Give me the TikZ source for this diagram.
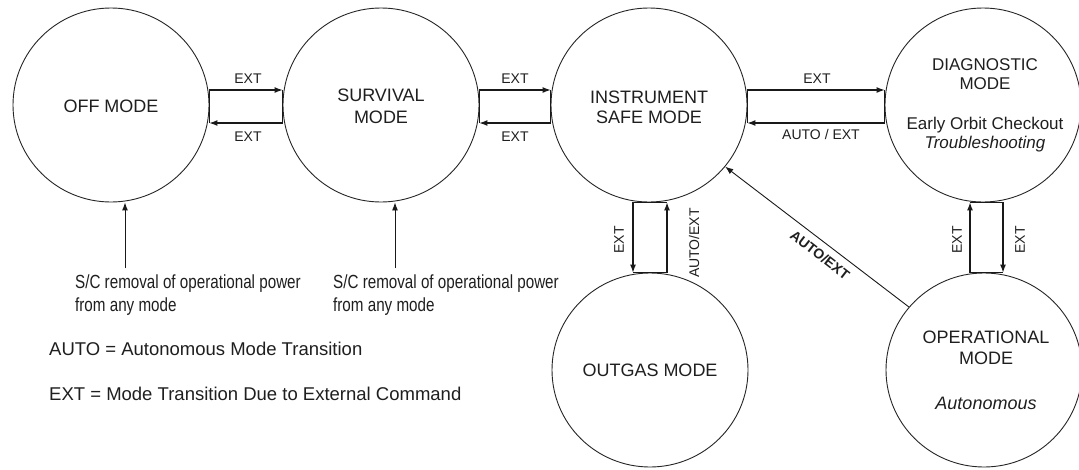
\documentclass[tikz,border=0pt]{standalone}
\usepackage{fontspec}
\setmainfont{Liberation Sans}
\usetikzlibrary{shapes.geometric,arrows.meta,calc}
\begin{document}
\begin{tikzpicture}[x=1pt,y=-1pt,
  mode/.style={ellipse,draw=black!85,line width=0.9pt,minimum width=196pt,minimum height=194pt,inner sep=0pt},
  lbl/.style={font=\fontsize{18}{21}\selectfont,align=center,text=black!88,inner sep=0pt},
  arr/.style={line width=1.1pt,draw=black!90,-{Latex[length=8pt,width=6pt]}},
  ln/.style={line width=1.1pt,draw=black!90},
  tag/.style={font=\fontsize{14}{16}\selectfont,inner sep=0pt,text=black!88},
  note/.style={font=\fontsize{18.5}{22}\selectfont,anchor=west,inner sep=0pt,text=black!88}]
\useasboundingbox (0,0) rectangle (1079,469);
\fill[white] (0,0) rectangle (1079,469);

% mode circles
\node[mode] (off)  at (111,105) {};
\node[mode] (surv) at (381,105) {};
\node[mode] (inst) at (649,105) {};
\node[mode] (diag) at (983,105) {};
\node[mode] (outg) at (650,370) {};
\node[mode] (oper) at (984,370) {};

% mode texts
\node[lbl] (offt) at (111,106) {OFF MODE};
\node[lbl,font=\fontsize{18}{22}\selectfont] (survt) at (381,106) {SURVIVAL\\MODE};
\node[lbl,font=\fontsize{18}{20}\selectfont] (instt) at (649,107) {INSTRUMENT\\SAFE MODE};
\node[lbl,font=\fontsize{17}{19}\selectfont] (diagt) at (985,105) {DIAGNOSTIC\\MODE\\[21pt]Early Orbit Checkout\\\textit{Troubleshooting}};
\node[lbl] (outgt) at (650,370) {OUTGAS MODE};
\node[lbl,font=\fontsize{18}{21}\selectfont] (opert) at (986,370) {OPERATIONAL\\MODE\\[24pt]\textit{Autonomous}};

% helper coordinates
\coordinate (ya) at (0,90);
\coordinate (yb) at (0,123);
\coordinate (xa) at (633,0);
\coordinate (xb) at (667,0);
\coordinate (xc) at (970,0);
\coordinate (xd) at (1003,0);

% flats on the circle sides
\draw[ln] (off.east |- ya) -- (off.east |- yb);
\draw[ln] (surv.west |- ya) -- (surv.west |- yb);
\draw[ln] (surv.east |- ya) -- (surv.east |- yb);
\draw[ln] (inst.west |- ya) -- (inst.west |- yb);
\draw[ln] (inst.east |- ya) -- (inst.east |- yb);
\draw[ln] (diag.west |- ya) -- (diag.west |- yb);
\draw[ln] (inst.south -| xa) -- (inst.south -| xb);
\draw[ln] (outg.north -| xa) -- (outg.north -| xb);
\draw[ln] (diag.south -| xc) -- (diag.south -| xd);
\draw[ln] (oper.north -| xc) -- (oper.north -| xd);

% horizontal transitions
\draw[arr] (off.east |- ya) -- (surv.west |- ya);
\draw[arr] (surv.west |- yb) -- (off.east |- yb);
\node[tag] (t1) at (248,79) {EXT};
\node[tag] (t2) at (248,137) {EXT};

\draw[arr] (surv.east |- ya) -- (inst.west |- ya);
\draw[arr] (inst.west |- yb) -- (surv.east |- yb);
\node[tag] (t3) at (515,79) {EXT};
\node[tag] (t4) at (515,137) {EXT};

\draw[arr] (inst.east |- ya) -- (diag.west |- ya);
\draw[arr] (diag.west |- yb) -- (inst.east |- yb);
\node[tag] (t5) at (817,79) {EXT};
\node[tag] (t6) at (821,134) {AUTO / EXT};

% vertical transitions
\draw[arr] (inst.south -| xa) -- (outg.north -| xa);
\draw[arr] (outg.north -| xb) -- (inst.south -| xb);
\node[tag,rotate=90] (t7) at (619,240) {EXT};
\node[tag,rotate=90] (t8) at (694,243) {AUTO/EXT};

\draw[arr] (oper.north -| xc) -- (diag.south -| xc);
\draw[arr] (diag.south -| xd) -- (oper.north -| xd);
\node[tag,rotate=90] (t9) at (957,240) {EXT};
\node[tag,rotate=90] (t10) at (1020,240) {EXT};

% diagonal transition
\draw[arr,line width=0.9pt] (oper.140.8) -- (inst.-39);
\node[tag,font=\bfseries\fontsize{14}{16}\selectfont,rotate=-37.8] (t11) at (820,255) {AUTO/EXT};

% power removal
\coordinate (p1) at (125,268);
\coordinate (p2) at (395,268);
\draw[arr,line width=1pt] (p1) -- (off.south -| p1);
\draw[arr,line width=0.9pt] (p2) -- (surv.south -| p2);
\node[note,align=left,font=\fontsize{19}{23}\selectfont] (n1) at (75,295) {\scalebox{0.8}[1]{S/C removal of operational power}\\\scalebox{0.8}[1]{from any mode}};
\node[note,align=left,font=\fontsize{19}{23}\selectfont] (n2) at (333,295) {\scalebox{0.8}[1]{S/C removal of operational power}\\\scalebox{0.8}[1]{from any mode}};

% legend
\node[note] (lg1) at (49,349) {AUTO = Autonomous Mode Transition};
\node[note] (lg2) at (49,394) {EXT = Mode Transition Due to External Command};
\end{tikzpicture}
\end{document}
